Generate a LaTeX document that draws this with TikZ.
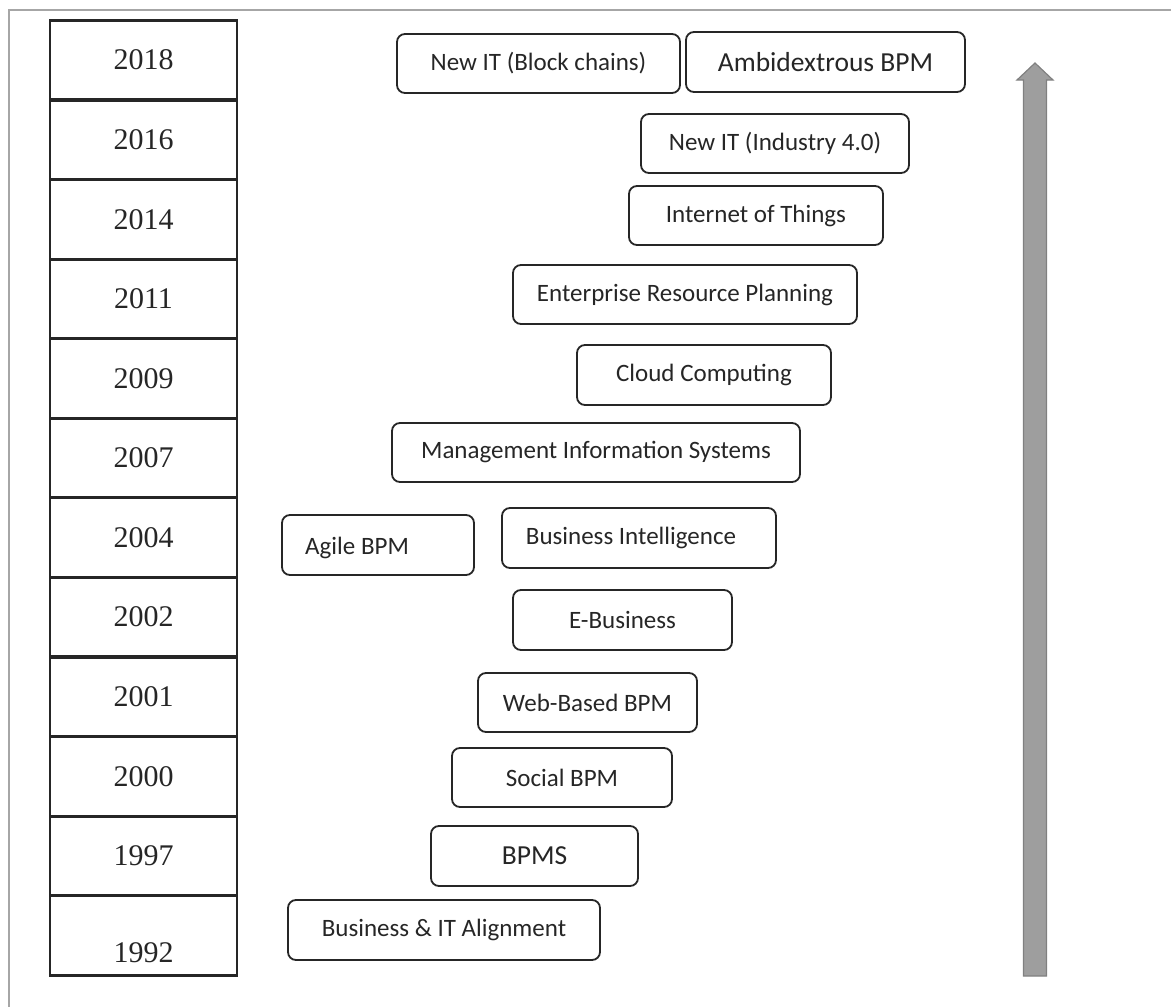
\documentclass[tikz,border=0pt]{standalone}
\usepackage{fontspec}
\setmainfont{Liberation Serif}
\newfontfamily\boxfont{Carlito}
\begin{document}
\begin{tikzpicture}[x=1pt,y=-1pt,
  yearcell/.style={draw=black!85, line width=2.6pt, minimum width=187pt, minimum height=79.5pt,
    inner sep=0pt, font=\fontsize{30}{36}\selectfont, text=black!85},
  yeartxt/.style={inner sep=0pt, font=\fontsize{30}{36}\selectfont, text=black!85},
  techbox/.style={draw=black!85, line width=1.8pt, rounded corners=8pt, inner sep=0pt,
    font=\boxfont\fontsize{25}{30}\selectfont, text=black!85},
  boxtext/.style={inner sep=0pt, font=\boxfont\fontsize{25}{30}\selectfont, text=black!85},
  bigtext/.style={font=\boxfont\fontsize{27.5}{33}\selectfont},
  framecol/.style={draw=black!35, line width=2pt},
  arrowbody/.style={fill=black!38, draw=black!50, line width=1.2pt, line join=miter}
]
% page size and the thin outer frame
\useasboundingbox (0,0) rectangle (1171,1007);
\draw[framecol] (9,1007) -- (9,10) -- (1171,10);

% year column
\node[yearcell] (c2018) at (143.5,60) {2018};
\node[yearcell] (c2016) at (143.5,140) {2016};
\node[yearcell] (c2014) at (143.5,219.5) {2014};
\node[yearcell] (c2011) at (143.5,299) {2011};
\node[yearcell] (c2009) at (143.5,378.5) {2009};
\node[yearcell] (c2007) at (143.5,458) {2007};
\node[yearcell] (c2004) at (143.5,537.5) {2004};
\node[yearcell] (c2002) at (143.5,617) {2002};
\node[yearcell] (c2001) at (143.5,697) {2001};
\node[yearcell] (c2000) at (143.5,776.5) {2000};
\node[yearcell] (c1997) at (143.5,856) {1997};
\node[yearcell] (c1992) at (143.5,935.5) {};
\node[yeartxt] (t1992) at (143.5,953) {1992};

% technology boxes
\node[techbox, minimum width=283pt, minimum height=59pt] (blockchain) at (538.5,63.5) {New IT (Block chains)};
\node[techbox, bigtext, minimum width=279pt, minimum height=60pt] (ambi) at (825.5,62) {Ambidextrous BPM};
\node[techbox, minimum width=268pt, minimum height=59pt] (industry) at (775,143.5) {New IT (Industry 4.0)};
\node[techbox, minimum width=254pt, minimum height=59pt] (iot) at (756,215.5) {Internet of Things};
\node[techbox, minimum width=344pt, minimum height=59pt] (erp) at (685,294.5) {Enterprise Resource Planning};
\node[techbox, minimum width=254pt, minimum height=60pt] (cloud) at (704,375) {Cloud Computing};
\node[techbox, minimum width=408pt, minimum height=59pt] (mis) at (596,452.5) {Management Information Systems};
\node[techbox, minimum width=192pt, minimum height=60pt] (agile) at (378,545) {};
\node[boxtext, anchor=base west] (agiletxt) at (305,554) {Agile BPM};
\node[techbox, minimum width=274pt, minimum height=60pt] (bi) at (639,538) {};
\node[boxtext] (bitxt) at (631,538) {Business Intelligence};
\node[techbox, minimum width=219pt, minimum height=60pt] (ebus) at (622.5,620) {E-Business};
\node[techbox, minimum width=219pt, minimum height=59pt] (web) at (587.5,702.5) {Web-Based BPM};
\node[techbox, minimum width=220pt, minimum height=59pt] (social) at (562,777.5) {Social BPM};
\node[techbox, bigtext, minimum width=207pt, minimum height=60pt] (bpms) at (534.5,856) {BPMS};
\node[techbox, minimum width=312pt, minimum height=60pt] (align) at (444,930) {Business \& IT Alignment};

% upward time arrow
\draw[arrowbody] (1023.5,976) -- (1023.5,80) -- (1017,80) -- (1035,63)
  -- (1053,80) -- (1046.5,80) -- (1046.5,976) -- cycle;
\end{tikzpicture}
\end{document}
